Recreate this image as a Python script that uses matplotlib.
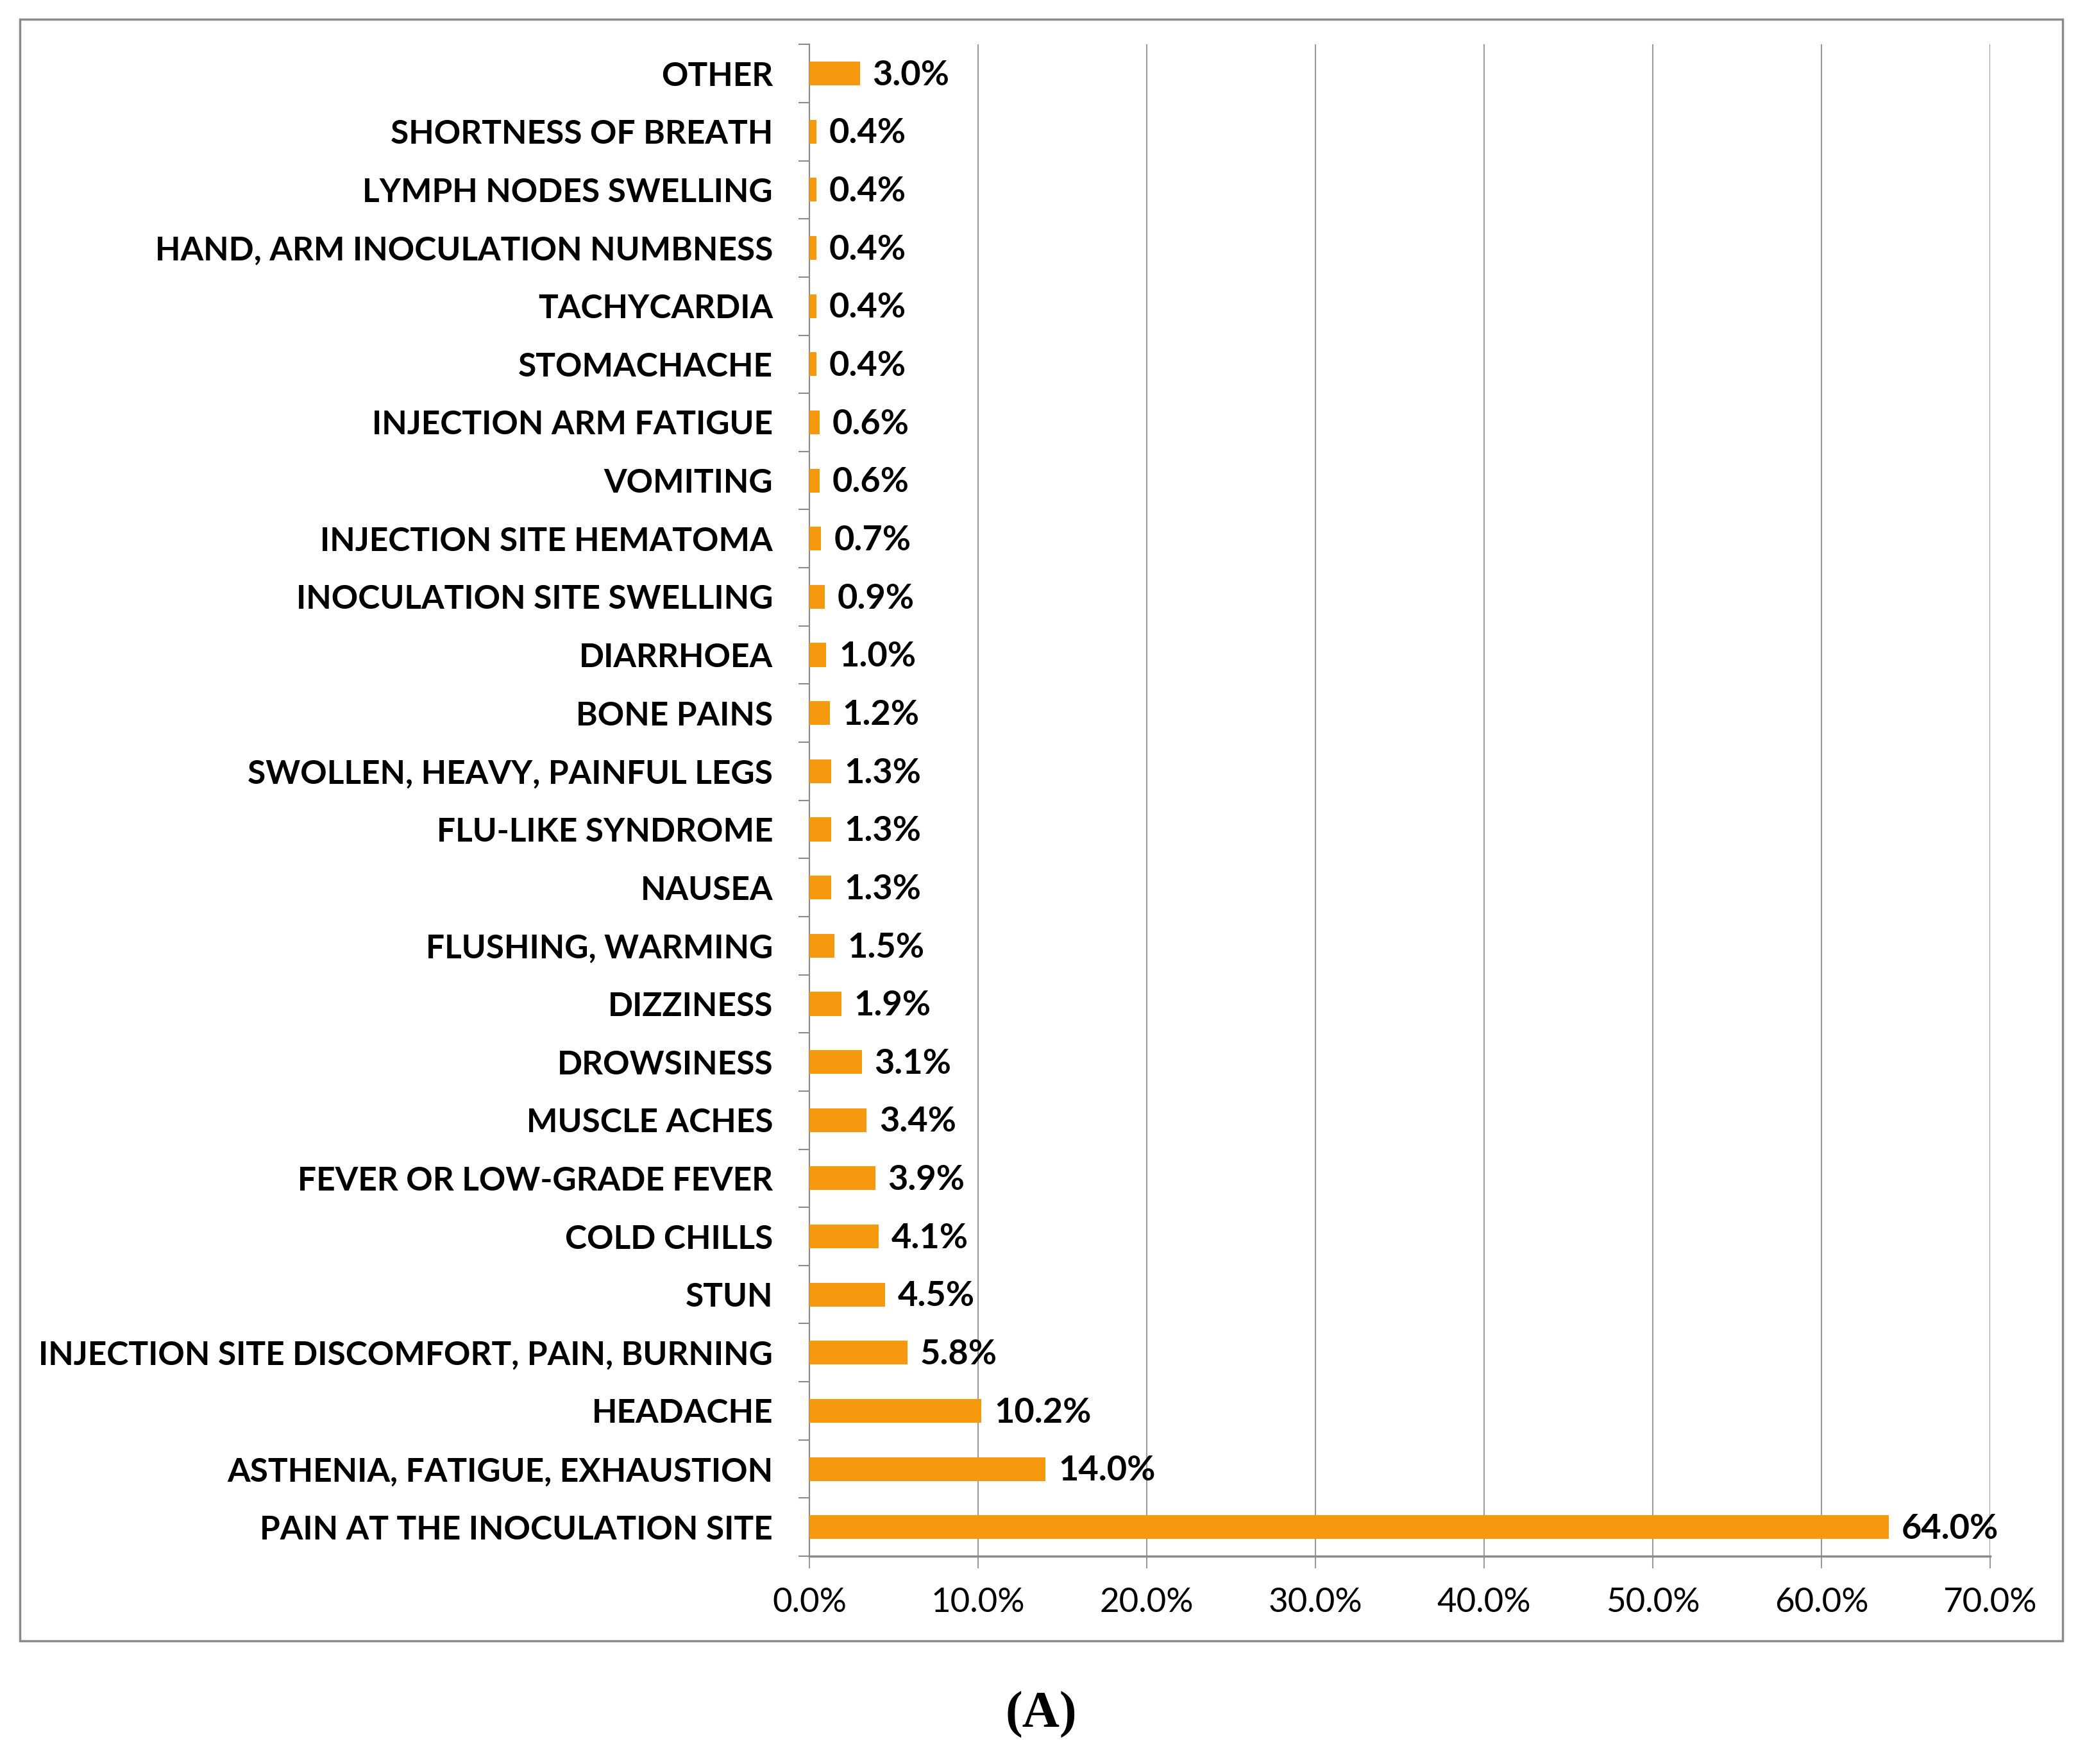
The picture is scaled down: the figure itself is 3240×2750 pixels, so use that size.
import matplotlib
import numpy as np

matplotlib.use("Agg")
import matplotlib.pyplot as plt
from matplotlib.patches import Rectangle


# bottom to top, as drawn
symptoms = [
    "PAIN AT THE INOCULATION SITE",
    "ASTHENIA, FATIGUE, EXHAUSTION",
    "HEADACHE",
    "INJECTION SITE DISCOMFORT, PAIN, BURNING",
    "STUN",
    "COLD CHILLS",
    "FEVER OR LOW-GRADE FEVER",
    "MUSCLE ACHES",
    "DROWSINESS",
    "DIZZINESS",
    "FLUSHING, WARMING",
    "NAUSEA",
    "FLU-LIKE SYNDROME",
    "SWOLLEN, HEAVY, PAINFUL LEGS",
    "BONE PAINS",
    "DIARRHOEA",
    "INOCULATION SITE SWELLING",
    "INJECTION SITE HEMATOMA",
    "VOMITING",
    "INJECTION ARM FATIGUE",
    "STOMACHACHE",
    "TACHYCARDIA",
    "HAND, ARM INOCULATION NUMBNESS",
    "LYMPH NODES SWELLING",
    "SHORTNESS OF BREATH",
    "OTHER",
]
percent = [64.0, 14.0, 10.2, 5.8, 4.5, 4.1, 3.9, 3.4, 3.1, 1.9, 1.5, 1.3, 1.3,
           1.3, 1.2, 1.0, 0.9, 0.7, 0.6, 0.6, 0.4, 0.4, 0.4, 0.4, 0.4, 3.0]
x_ticks = [0, 10, 20, 30, 40, 50, 60, 70]

BAR_COLOR = "#F7990F"
GRID_COLOR = "#9a9a9a"
AXIS_COLOR = "#8a8a8a"
FONT = "Lato"

fig = plt.figure(figsize=(32.41, 27.5), dpi=100)
fig.patches.append(Rectangle((0.0096, 0.070), 0.9827, 0.919, transform=fig.transFigure,
                             fill=False, edgecolor=AXIS_COLOR, linewidth=2.5))

ax = fig.add_axes([0.3894, 0.1178, 0.568, 0.857])
y = np.arange(len(symptoms))
ax.barh(y, percent, height=0.41, color=BAR_COLOR, zorder=3)

for yi, v in zip(y, percent):
    ax.text(v + 0.75, yi - 0.03, f"{v:.1f}%", va="center", ha="left", fontsize=39,
            fontweight="bold", family=FONT, zorder=4)

ax.set_xlim(0, 70)
ax.set_ylim(-0.5, len(symptoms) - 0.5)
ax.set_xticks(x_ticks)
ax.set_xticklabels([f"{t:.1f}%" for t in x_ticks], fontsize=38, family=FONT)
ax.set_yticks(y)
ax.set_yticklabels(symptoms, fontsize=37, fontweight="bold", family=FONT)
ax.set_yticks(np.arange(-0.5, len(symptoms), 1), minor=True)

ax.tick_params(axis="y", which="major", length=0, pad=41)
ax.tick_params(axis="y", which="minor", length=12, width=1.5, color=AXIS_COLOR)
ax.tick_params(axis="x", length=14, width=1.5, color=GRID_COLOR, pad=21)

ax.grid(axis="x", color=GRID_COLOR, linewidth=1.5, zorder=0)
for side in ("top", "right"):
    ax.spines[side].set_visible(False)
ax.spines["left"].set_color(AXIS_COLOR)
ax.spines["left"].set_linewidth(1.5)
ax.spines["bottom"].set_color(AXIS_COLOR)
ax.spines["bottom"].set_linewidth(2.5)

fig.text(0.5008, 0.028, "(A)", ha="center", va="center", fontsize=58,
         fontweight="bold", family="Liberation Serif")

fig.savefig("out.png", dpi=100, facecolor="white")
